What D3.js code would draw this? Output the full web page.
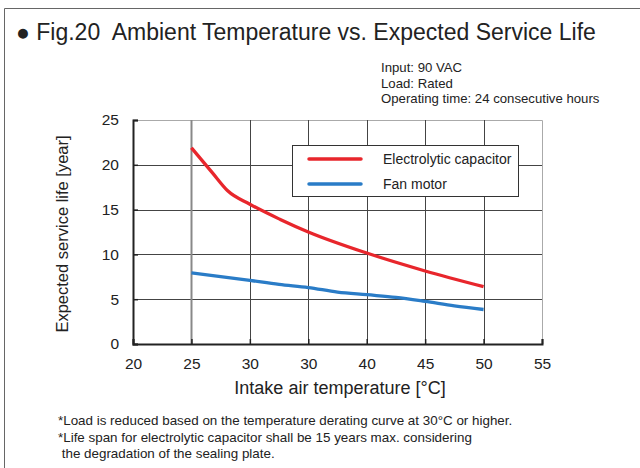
<!DOCTYPE html>
<html><head><meta charset="utf-8">
<script src="https://cdn.jsdelivr.net/npm/d3@7"></script>
<style>body{margin:0;background:#fff}svg{display:block;font-family:"Liberation Sans",Arial,sans-serif}text{white-space:pre}</style>
</head><body><svg id="c" width="640" height="468"></svg>
<script>
const xTicks = [20,25,30,35,40,45,50,55];
const xTickLabels = ["20","25","30","30","40","45","50","55"];
const yTicks = [0,5,10,15,20,25];
const capTemp = [25,26.8,28.1,30,32.6,35,40,45,50];
const capLife = [21.9,19.1,17.1,15.6,13.9,12.5,10.15,8.15,6.4];
const fanTemp = [25,30,32.5,35,37.5,40,42.5,45,47.5,50];
const fanLife = [7.95,7.1,6.65,6.3,5.8,5.5,5.2,4.75,4.25,3.85];
const seriesNames = ["Electrolytic capacitor","Fan motor"];
const seriesColors = ["#e8262c","#2a7cc7"];
const title = "\u25CF Fig.20  Ambient Temperature vs. Expected Service Life";
const conditions = ["Input: 90 VAC","Load: Rated","Operating time: 24 consecutive hours"];
const notes = ["*Load is reduced based on the temperature derating curve at 30\u00B0C or higher.",
  "*Life span for electrolytic capacitor shall be 15 years max. considering",
  " the degradation of the sealing plate."];

const svg = d3.select("#c");
const x = d3.scaleLinear().domain([20,55]).range([133,542]);
const y = d3.scaleLinear().domain([0,25]).range([344,120]);

// outer frame
svg.append("path").attr("d","M4.5,468 L4.5,8.5 L640,8.5").attr("fill","none").attr("stroke","#666").attr("stroke-width",1);

svg.append("text").attr("x",16).attr("y",40).attr("font-size",23).attr("fill","#222").attr("xml:space","preserve").text(title);

conditions.forEach((t,i)=>svg.append("text").attr("x",381).attr("y",72+i*15.5).attr("font-size",13.2).attr("fill","#222").text(t));

// plot border (top/right light)
svg.append("path").attr("d",`M${x(20)},${y(25)+0.5} L${x(55)+0.5},${y(25)+0.5} L${x(55)+0.5},${y(0)}`).attr("fill","none").attr("stroke","#aaa").attr("stroke-width",1);

// horizontal grid
svg.append("g").selectAll("line").data(yTicks.filter(v=>v>0&&v<25)).join("line")
  .attr("x1",x(20)).attr("x2",x(55)).attr("y1",d=>Math.round(y(d))+0.5).attr("y2",d=>Math.round(y(d))+0.5)
  .attr("stroke","#444").attr("stroke-width",1);
// vertical grid
svg.append("g").selectAll("line").data(xTicks.filter(v=>v>20&&v<55)).join("line")
  .attr("y1",y(0)).attr("y2",y(25)).attr("x1",d=>Math.round(x(d))+0.5).attr("x2",d=>Math.round(x(d))+0.5)
  .attr("stroke",d=>d===25?"#888":"#444").attr("stroke-width",d=>d===25?2:1);

// axes
const xAxis = svg.append("g").attr("transform",`translate(0,${y(0)})`)
  .call(d3.axisBottom(x).tickValues(xTicks).tickFormat((d,i)=>xTickLabels[i]).tickSize(-5).tickPadding(14));
const yAxis = svg.append("g").attr("transform",`translate(${x(20)},0)`)
  .call(d3.axisLeft(y).tickValues(yTicks).tickSize(-5).tickPadding(14));
[xAxis,yAxis].forEach(a=>{
  a.select(".domain").attr("stroke","#222").attr("stroke-width",2);
  a.selectAll(".tick line").attr("stroke","#222").attr("stroke-width",1.5);
  a.selectAll("text").attr("font-size",15.5).attr("fill","#222").attr("font-family","Liberation Sans, Arial, sans-serif");
});

// lines
const line = d3.line().x(d=>x(d[0])).y(d=>y(d[1])).curve(d3.curveMonotoneX);
const capData = capTemp.map((t,i)=>[t,capLife[i]]);
const fanData = fanTemp.map((t,i)=>[t,fanLife[i]]);
[capData,fanData].forEach((d,i)=>svg.append("path").datum(d).attr("d",line)
  .attr("fill","none").attr("stroke",seriesColors[i]).attr("stroke-width",3.3));

// legend
svg.append("rect").attr("x",292.5).attr("y",145.5).attr("width",226).attr("height",51)
  .attr("fill","#fff").attr("stroke","#333").attr("stroke-width",1);
seriesNames.forEach((n,i)=>{
  const ly = 159+i*25;
  svg.append("line").attr("x1",309).attr("x2",361).attr("y1",ly).attr("y2",ly)
    .attr("stroke",seriesColors[i]).attr("stroke-width",3.5).attr("stroke-linecap","round");
  svg.append("text").attr("x",383).attr("y",ly+5).attr("font-size",14).attr("fill","#222").text(n);
});

// axis titles
svg.append("text").attr("x",340).attr("y",394).attr("text-anchor","middle").attr("font-size",18).attr("fill","#222").text("Intake air temperature [\u00B0C]");
svg.append("text").attr("transform","translate(68,234) rotate(-90)").attr("text-anchor","middle").attr("font-size",16.5).attr("fill","#222").text("Expected service life [year]");

notes.forEach((t,i)=>svg.append("text").attr("x",58).attr("y",425+i*16.5).attr("font-size",13.4).attr("fill","#222").attr("xml:space","preserve").text(t));
</script></body></html>
